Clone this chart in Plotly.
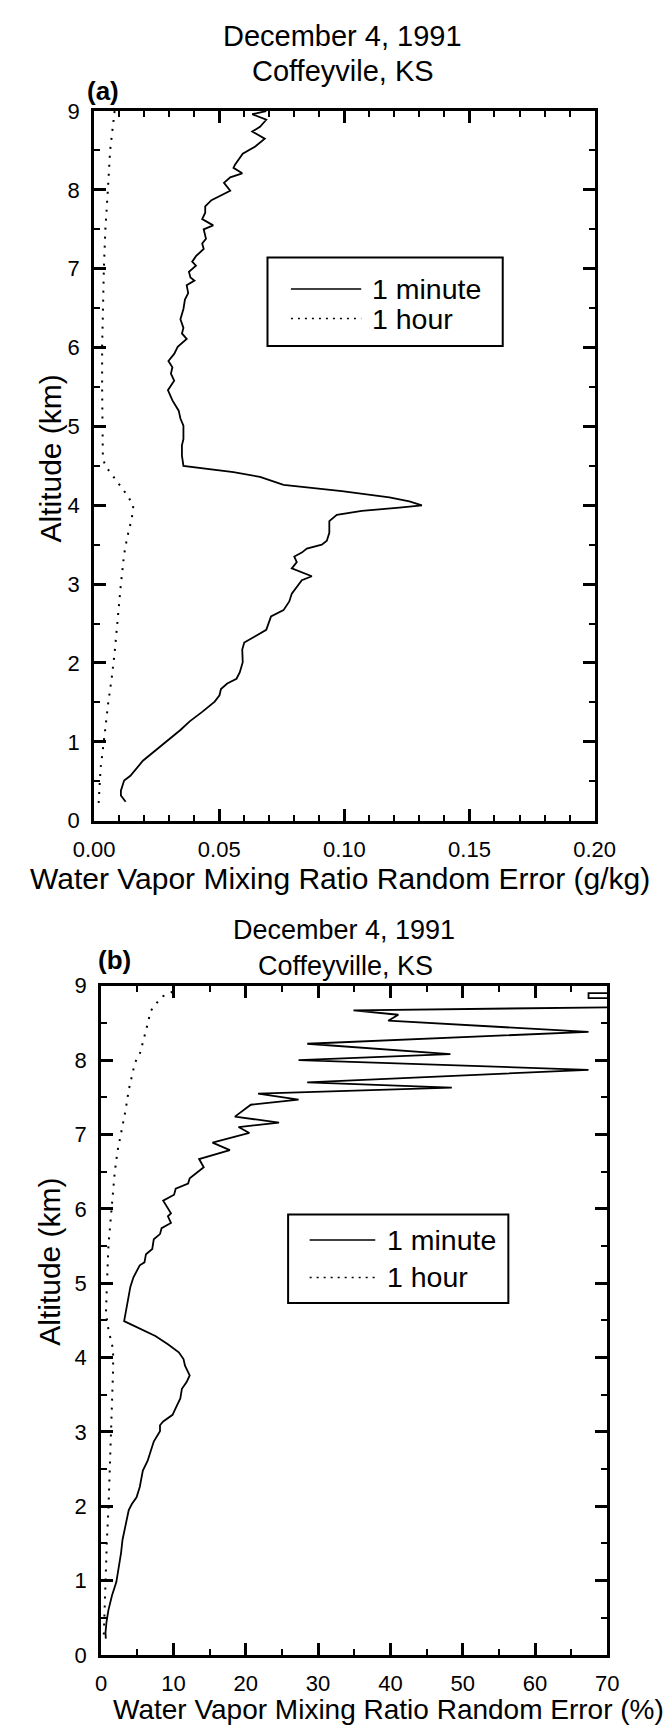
import plotly.graph_objects as go

# ---------------- data ----------------
# Panel (a): random error in g/kg
alt_a_min = [9.00, 8.96, 8.89, 8.80, 8.74, 8.65, 8.55, 8.46, 8.32, 8.28, 8.21, 8.16, 8.09, 7.99,
             7.87, 7.79, 7.71, 7.63, 7.55, 7.50, 7.38, 7.32, 7.25, 7.16, 7.09, 7.04, 6.96, 6.89,
             6.85, 6.79, 6.69, 6.61, 6.49, 6.36, 6.25, 6.18, 6.11, 6.01, 5.92, 5.83, 5.75, 5.67,
             5.58, 5.46, 5.33, 5.20, 5.10, 5.01, 4.84, 4.76, 4.63, 4.50, 4.42, 4.36, 4.26, 4.18,
             4.10, 4.05, 4.00, 3.97, 3.93, 3.88, 3.80, 3.65, 3.55, 3.50, 3.45, 3.40, 3.35, 3.28,
             3.20, 3.15, 3.10, 3.05, 2.97, 2.88, 2.78, 2.67, 2.59, 2.42, 2.34, 2.26, 2.17, 2.01,
             1.88, 1.80, 1.74, 1.67, 1.59, 1.51, 1.38, 1.26, 1.15, 1.05, 0.92, 0.76, 0.57, 0.51,
             0.38, 0.32, 0.24]
err_a_min = [0.0688, 0.0632, 0.0688, 0.0663, 0.0632, 0.0682, 0.0644, 0.0594, 0.0563, 0.0557,
             0.0592, 0.0544, 0.0519, 0.0544, 0.0469, 0.0444, 0.0444, 0.0432, 0.0476, 0.0438,
             0.0447, 0.0432, 0.0438, 0.0407, 0.0392, 0.0407, 0.0379, 0.0385, 0.0401, 0.0370,
             0.0376, 0.0363, 0.0357, 0.0345, 0.0357, 0.0351, 0.0370, 0.0334, 0.0320, 0.0297,
             0.0313, 0.0307, 0.0320, 0.0295, 0.0313, 0.0338, 0.0345, 0.0357, 0.0357, 0.0351,
             0.0351, 0.0357, 0.0557, 0.0663, 0.0757, 0.0990, 0.1180, 0.1260, 0.1310, 0.1220,
             0.1070, 0.0970, 0.0940, 0.0940, 0.0930, 0.0910, 0.0850, 0.0830, 0.0800, 0.0810,
             0.0790, 0.0830, 0.0870, 0.0830, 0.0810, 0.0790, 0.0780, 0.0757, 0.0707, 0.0688,
             0.0644, 0.0600, 0.0592, 0.0594, 0.0582, 0.0569, 0.0532, 0.0507, 0.0501, 0.0482,
             0.0432, 0.0382, 0.0345, 0.0307, 0.0257, 0.0195, 0.0145, 0.0120, 0.0107, 0.0107,
             0.0126]

alt_a_hr = [9.0, 8.5, 8.0, 7.5, 7.0, 6.5, 6.0, 5.5, 5.0, 4.6, 4.5, 4.34, 4.13, 4.0, 3.84, 3.59,
            3.38, 3.0, 2.55, 2.13, 1.80, 1.51, 1.09, 0.67, 0.22]
err_a_hr = [0.0082, 0.0064, 0.0055, 0.0045, 0.0039, 0.0035, 0.0032, 0.0032, 0.0032, 0.0035,
            0.0045, 0.0082, 0.0132, 0.0157, 0.0151, 0.0132, 0.0120, 0.0107, 0.0095, 0.0082,
            0.0070, 0.0057, 0.0042, 0.0026, 0.0018]

# Panel (b): random error in percent
alt_b_min = [8.95, 8.905, 8.90, 8.835, 8.83, 8.77, 8.715, 8.67, 8.61, 8.53, 8.38, 8.22, 8.08,
             8.00, 7.87, 7.70, 7.63, 7.55, 7.47, 7.40, 7.24, 7.16, 7.10, 7.02, 6.89, 6.79, 6.67,
             6.56, 6.41, 6.34, 6.27, 6.19, 6.11, 5.94, 5.90, 5.81, 5.74, 5.66, 5.59, 5.46, 5.39,
             5.28, 5.24, 5.08, 4.95, 4.82, 4.68, 4.60, 4.49, 4.37, 4.29, 4.18, 4.07, 3.98, 3.89,
             3.76, 3.67, 3.58, 3.45, 3.32, 3.23, 3.14, 3.09, 3.01, 2.87, 2.74, 2.61, 2.48, 2.34,
             2.26, 2.12, 2.03, 1.95, 1.86, 1.77, 1.55, 1.37, 1.24, 0.98, 0.80, 0.60, 0.45, 0.30,
             0.22]
err_b_min = [80.0, 75.0, 67.4, 67.4, 75.0, 80.0, 75.0, 34.9, 41.1, 39.7, 67.4, 28.5, 48.3,
             27.3, 67.4, 28.5, 48.5, 21.7, 27.3, 20.7, 18.5, 24.6, 19.0, 20.5, 15.4, 17.8, 13.55,
             14.19, 12.25, 12.03, 10.31, 10.09, 8.58, 9.66, 9.23, 9.66, 8.36, 8.14, 7.28, 7.07,
             6.20, 5.99, 5.34, 4.47, 4.04, 3.82, 3.61, 3.39, 3.18, 5.77, 7.50, 9.23, 10.74, 11.39,
             11.60, 12.25, 11.82, 11.17, 10.95, 10.31, 9.88, 8.58, 8.14, 8.14, 7.28, 6.85, 6.42,
             5.77, 5.55, 5.34, 4.90, 4.25, 3.82, 3.61, 3.39, 2.96, 2.75, 2.53, 2.10, 1.50, 1.00,
             0.75, 0.60, 0.65]

alt_b_hr = [8.92, 8.86, 8.75, 8.66, 8.48, 8.26, 8.08, 7.97, 7.77, 7.60, 7.33, 7.11, 6.94, 6.78,
            6.49, 6.01, 5.52, 4.99, 4.60, 4.37, 4.11, 3.85, 3.40, 2.96, 2.52, 1.99, 1.55, 1.11,
            0.60, 0.22]
err_b_hr = [9.87, 8.58, 7.50, 6.85, 6.42, 5.77, 5.34, 4.69, 4.25, 3.82, 3.39, 2.96, 2.53, 2.27,
            1.88, 1.45, 1.02, 0.80, 0.67, 1.02, 1.66, 1.66, 1.53, 1.36, 1.23, 1.02, 0.80, 0.67,
            0.45, 0.35]

series_names = ["1 minute", "1 hour"]
title_a = ["December 4, 1991", "Coffeyvile, KS"]
title_b = ["December 4, 1991", "Coffeyville, KS"]
xtitle_a = "Water Vapor Mixing Ratio Random Error (g/kg)"
xtitle_b = "Water Vapor Mixing Ratio Random Error (%)"
ytitle = "Altitude (km)"

# ---------------- layout helpers ----------------
W, H = 669, 1735
FONT = "Liberation Sans, Arial, Helvetica, sans-serif"


def px(x):
    return x / W


def py(y):
    return 1 - y / H


fig = go.Figure()

solid = dict(color="black", width=1.8)
dotted = dict(color="black", width=2, dash="2px,7px")

fig.add_trace(go.Scatter(x=err_a_min, y=alt_a_min, mode="lines", line=solid,
                         name=series_names[0], showlegend=False, xaxis="x", yaxis="y"))
fig.add_trace(go.Scatter(x=err_a_hr, y=alt_a_hr, mode="lines", line=dotted,
                         name=series_names[1], showlegend=False, xaxis="x", yaxis="y"))
fig.add_trace(go.Scatter(x=err_b_min, y=alt_b_min, mode="lines", line=solid,
                         name=series_names[0], showlegend=False, xaxis="x2", yaxis="y2"))
fig.add_trace(go.Scatter(x=err_b_hr, y=alt_b_hr, mode="lines", line=dotted,
                         name=series_names[1], showlegend=False, xaxis="x2", yaxis="y2"))

axis_common = dict(showline=True, linecolor="black", linewidth=3, mirror="ticks",
                   ticks="inside", ticklen=12, tickwidth=2.5, tickcolor="black",
                   showgrid=False, zeroline=False, tickfont=dict(family=FONT, size=22, color="black"),
                   ticklabelstandoff=7)

# panel (a) box: x 78..612, y 100.5..820.5 ; panel (b): x 85.5..625.6, y 988..1667
fig.update_layout(
    width=W, height=H, margin=dict(l=0, r=0, t=0, b=0),
    paper_bgcolor="white", plot_bgcolor="white",
    font=dict(family=FONT, color="black"),
    xaxis=dict(domain=[px(78), px(612)], range=[0, 0.2], dtick=0.05, tickformat=".2f",
               minor=dict(dtick=0.01, ticklen=6, tickwidth=2, tickcolor="black", ticks="inside"),
               anchor="y", **axis_common),
    yaxis=dict(domain=[py(820.5), py(100.5)], range=[0, 9], dtick=1,
               minor=dict(dtick=0.5, ticklen=6, tickwidth=2, tickcolor="black", ticks="inside"),
               anchor="x", **axis_common),
    xaxis2=dict(domain=[px(85.5), px(625.6)], range=[0, 70], dtick=10,
                minor=dict(dtick=5, ticklen=6, tickwidth=2, tickcolor="black", ticks="inside"),
                anchor="y2", **axis_common),
    yaxis2=dict(domain=[py(1667), py(988)], range=[0, 9], dtick=1,
                minor=dict(dtick=0.5, ticklen=6, tickwidth=2, tickcolor="black", ticks="inside"),
                anchor="x2", **axis_common),
)


def text(s, x, y, size, xanchor="center", bold=False, angle=0):
    fig.add_annotation(text=("<b>%s</b>" % s) if bold else s, x=px(x), y=py(y),
                       xref="paper", yref="paper", xanchor=xanchor, yanchor="middle",
                       showarrow=False, textangle=angle,
                       font=dict(family=FONT, size=size, color="black"))


# titles panel (a)
text(title_a[0], 343, 24, 29)
text(title_a[1], 344, 60, 29)
text("(a)", 68, 80, 26, xanchor="left", bold=True)
text(xtitle_a, 340, 879, 30)
text(ytitle, 31, 453, 30, angle=-90)

# titles panel (b)
text(title_b[0], 345, 931, 27)
text(title_b[1], 346, 968, 27)
text("(b)", 80, 962, 26, xanchor="left", bold=True)
text(xtitle_b, 392, 1722, 28)
text(ytitle, 31, 1268, 30, angle=-90)


# legends (drawn as boxes with sample lines)
def legend(x0, x1, y0, y1, lx0, lx1, tx, ys):
    fig.add_shape(type="rect", xref="paper", yref="paper", x0=px(x0), x1=px(x1),
                  y0=py(y1), y1=py(y0), line=dict(color="black", width=2), fillcolor="white",
                  layer="above")
    styles = [dict(color="black", width=1.6), dict(color="black", width=1.6, dash="2px,5px")]
    for name, yy, st in zip(series_names, ys, styles):
        fig.add_shape(type="line", xref="paper", yref="paper", x0=px(lx0), x1=px(lx1),
                      y0=py(yy), y1=py(yy), line=st, layer="above")
        text(name, tx, yy, 28.5, xanchor="left")


legend(263, 514, 249, 339, 288, 363, 372, [281, 311])
legend(285, 520, 1220, 1310, 308, 378, 388, [1246, 1284])

fig.write_html("out.html")
